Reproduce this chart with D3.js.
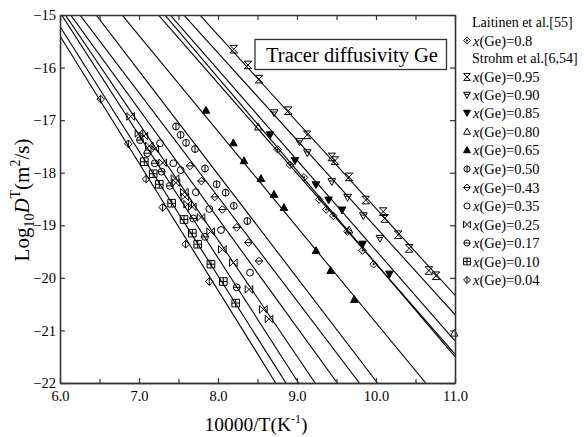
<!DOCTYPE html>
<html><head><meta charset="utf-8">
<script src="https://cdn.jsdelivr.net/npm/d3@7"></script>
<style>
body{margin:0;background:#fff;}
text{font-family:"Liberation Serif","Times New Roman",serif;fill:#000;}
</style></head>
<body><svg id="c" width="584" height="437"></svg>
<script>
// ---------- data ----------
const xTicks = [6.0, 7.0, 8.0, 9.0, 10.0, 11.0];
const xMinorTicks = [6.5, 7.5, 8.5, 9.5, 10.5];
const yTicks = [-15, -16, -17, -18, -19, -20, -21, -22];

const seriesLabels = ["0.8", "0.95", "0.90", "0.85", "0.80", "0.65", "0.50", "0.43", "0.35", "0.25", "0.17", "0.10", "0.04"];
const seriesMarkers = ["diamondDot", "hourglass", "triDownBar", "triDownFill", "triUp", "triUpFill", "circleVLine", "diamondHLine", "circle", "bowtie", "circleHLine", "squarePlus", "diamondVLine"];

// fitted Arrhenius lines: start (x, logD) and end (x, logD)
const lineStartX = [6, 6, 6, 6, 6, 6, 6, 6, 6, 6, 6, 6, 6];
const lineStartY = [-12.65, -12.08, -12.40, -12.60, -12.86, -13.57, -14.10, -14.50, -14.72, -14.85, -14.95, -15.22, -15.40];
const lineEndX   = [11, 11, 11, 11, 11, 10.63, 10.02, 9.79, 9.51, 9.23, 9.02, 8.86, 8.73];
const lineEndY   = [-21.50, -20.33, -20.70, -21.20, -21.45, -22, -22, -22, -22, -22, -22, -22, -22];

const pL08 = [[8.755,-17.555],[8.91,-17.85],[9.09,-18.09],[9.28,-18.51],[9.37,-18.70],[9.46,-18.82],[9.64,-19.12],[9.83,-19.48],[9.97,-19.74]];
const p095 = [[8.20,-15.65],[8.38,-15.95],[8.52,-16.22],[8.89,-16.82],[9.13,-17.28],[9.44,-17.70],[9.48,-17.77],[9.66,-18.08],[9.87,-18.52],[10.09,-18.74],[10.11,-18.87],[10.28,-19.18],[10.42,-19.44],[10.67,-19.86],[10.76,-19.96]];
const p090 = [[8.71,-16.86],[9.03,-17.41],[9.13,-17.62],[9.44,-18.17],[9.64,-18.47],[9.84,-18.82],[10.05,-19.25]];
const p085 = [[8.66,-17.28],[8.975,-17.77],[9.24,-18.23],[9.40,-18.52],[9.57,-18.71],[9.83,-19.36],[10.17,-19.93]];
const p080 = [[8.51,-17.13],[9.66,-19.09],[10.99,-21.05]];
const p065 = [[7.848,-16.81],[8.194,-17.43],[8.329,-17.77],[8.544,-18.11],[8.709,-18.41],[8.835,-18.66],[9.241,-19.48],[9.426,-19.86],[9.725,-20.41]];
const p050 = [[7.468,-17.12],[7.527,-17.28],[7.595,-17.43],[7.709,-17.55],[7.835,-17.92],[7.983,-18.22],[8.097,-18.38],[8.2,-18.63],[8.371,-18.92]];
const p043 = [[7.646,-17.87],[7.79,-18.16],[7.96,-18.46],[8.055,-18.70],[8.237,-19.04],[8.384,-19.33],[8.519,-19.68]];
const p035 = [[7.266,-17.44],[7.434,-17.82],[7.527,-17.95],[7.72,-18.37],[7.89,-18.69],[8.038,-19.09],[8.405,-19.90]];
const p025 = [[6.895,-16.93],[7.0,-17.25],[7.063,-17.30],[7.13,-17.49],[7.2,-17.55],[7.30,-17.81],[7.456,-18.11],[7.468,-18.19],[7.574,-18.37],[7.58,-18.46],[7.616,-18.60],[7.675,-18.65],[7.785,-18.85],[7.907,-19.12],[8.055,-19.46],[8.194,-19.71],[8.392,-20.22],[8.574,-20.60],[8.646,-20.78]];
const p017 = [[7.013,-17.38],[7.105,-17.63],[7.2,-17.82],[7.287,-17.98],[7.39,-18.25],[7.687,-18.87],[7.835,-19.22],[8.237,-20.18]];
const p010 = [[7.067,-17.79],[7.18,-18.02],[7.257,-18.22],[7.413,-18.58],[7.57,-18.89],[7.675,-19.15],[7.743,-19.36],[7.911,-19.74],[8.067,-20.07],[8.224,-20.48]];
const p004 = [[6.515,-16.60],[6.865,-17.45],[7.09,-18.12],[7.30,-18.66],[7.59,-19.36],[7.89,-20.07]];
const seriesPoints = [pL08, p095, p090, p085, p080, p065, p050, p043, p035, p025, p017, p010, p004];

// ---------- layout ----------
const svg = d3.select("#c");
const L = 60, R = 455, T = 15, B = 383;
const x = d3.scaleLinear().domain([6, 11]).range([L, R]);
const y = d3.scaleLinear().domain([-15, -22]).range([T, B]);

svg.append("defs").append("clipPath").attr("id", "clip")
  .append("rect").attr("x", L).attr("y", T).attr("width", R - L).attr("height", B - T);

const lg = svg.append("g").attr("clip-path", "url(#clip)");
seriesLabels.forEach((s, i) => {
  lg.append("line")
    .attr("x1", x(lineStartX[i])).attr("y1", y(lineStartY[i]))
    .attr("x2", x(lineEndX[i])).attr("y2", y(lineEndY[i]))
    .attr("stroke", "#000").attr("stroke-width", 1.1);
});

function marker(g, type, r) {
  const st = {fill: "none", stroke: "#000", "stroke-width": 1};
  const add = (d, fill) => {
    const p = g.append("path").attr("d", d);
    Object.entries(st).forEach(([k, v]) => p.attr(k, v));
    if (fill) p.attr("fill", "#000");
  };
  const circ = () => {
    const c = g.append("circle").attr("r", r * 0.9);
    Object.entries(st).forEach(([k, v]) => c.attr(k, v));
  };
  const dia = `M0,${-r}L${r},0L0,${r}L${-r},0Z`;
  switch (type) {
    case "diamondDot": add(dia); g.append("circle").attr("r", 1.1).attr("fill", "#000"); break;
    case "hourglass": add(`M${-r},${-r}H${r}L${-r},${r}H${r}Z`); break;
    case "triDownBar": add(`M${-r},${-r*0.8}H${r}L0,${r}Z`); add(`M${-r*0.6},${-r*0.2}H${r*0.6}`); break;
    case "triDownFill": add(`M${-r},${-r*0.8}H${r}L0,${r}Z`, true); break;
    case "triUp": add(`M${-r},${r*0.8}H${r}L0,${-r}Z`); break;
    case "triUpFill": add(`M${-r},${r*0.8}H${r}L0,${-r}Z`, true); break;
    case "circleVLine": circ(); add(`M0,${-r}V${r}`); break;
    case "diamondHLine": add(dia); add(`M${-r},0H${r}`); break;
    case "circle": circ(); break;
    case "bowtie": add(`M${-r},${-r}V${r}L${r},${-r}V${r}Z`); break;
    case "circleHLine": circ(); add(`M${-r},0H${r}`); break;
    case "squarePlus": add(`M${-r},${-r}H${r}V${r}H${-r}Z`); add(`M0,${-r}V${r}M${-r},0H${r}`); break;
    case "diamondVLine": add(dia); add(`M0,${-r}V${r}`); break;
  }
}

const mg = svg.append("g");
seriesPoints.forEach((pts, i) => {
  pts.forEach(p => {
    const g = mg.append("g").attr("transform", `translate(${x(p[0])},${y(p[1])})`);
    marker(g, seriesMarkers[i], 3.8);
  });
});

// axes
const frameColor = "#333";
const axB = svg.append("g").attr("transform", `translate(0,${B})`)
  .call(d3.axisBottom(x).tickValues(xTicks).tickFormat(d3.format(".1f")).tickSizeInner(-5).tickSizeOuter(0).tickPadding(8));
const axBm = svg.append("g").attr("transform", `translate(0,${B})`)
  .call(d3.axisBottom(x).tickValues(xMinorTicks).tickFormat("").tickSizeInner(-4).tickSizeOuter(0));
const axT = svg.append("g").attr("transform", `translate(0,${T})`)
  .call(d3.axisTop(x).tickValues(xTicks.concat(xMinorTicks)).tickFormat("").tickSizeInner(-5).tickSizeOuter(0));
const axL = svg.append("g").attr("transform", `translate(${L},0)`)
  .call(d3.axisLeft(y).tickValues(yTicks).tickFormat(d3.format("d")).tickSizeInner(-5).tickSizeOuter(0).tickPadding(4));
const axR = svg.append("g").attr("transform", `translate(${R},0)`)
  .call(d3.axisRight(y).tickValues(yTicks).tickFormat("").tickSizeInner(-5).tickSizeOuter(0));
[axB, axBm, axT, axL, axR].forEach(a => {
  a.select(".domain").attr("stroke", frameColor).attr("stroke-width", 1.6);
  a.selectAll(".tick line").attr("stroke", frameColor).attr("stroke-width", 1.2);
  a.selectAll("text").style("font-family", '"Liberation Serif",serif').style("font-size", "14.5px").attr("fill", "#000");
});

// title box
svg.append("rect").attr("x", 255).attr("y", 39.5).attr("width", 191.5).attr("height", 30)
  .attr("fill", "#fff").attr("stroke", frameColor).attr("stroke-width", 1.3);
svg.append("text").attr("x", 352).attr("y", 62).attr("text-anchor", "middle")
  .style("font-size", "20.5px").text("Tracer diffusivity Ge");

// axis titles
const xt = svg.append("text").attr("x", 256).attr("y", 431).attr("text-anchor", "middle").style("font-size", "19.5px");
xt.append("tspan").text("10000/T(K");
xt.append("tspan").attr("dy", -8).style("font-size", "12px").text("-1");
xt.append("tspan").attr("dy", 8).text(")");

const yt = svg.append("text").attr("transform", "translate(29,200) rotate(-90)").attr("text-anchor", "middle").style("font-size", "21px");
yt.append("tspan").text("Log");
yt.append("tspan").attr("dy", 5).style("font-size", "14px").text("10");
yt.append("tspan").attr("dy", -5).style("font-style", "italic").text("D");
yt.append("tspan").attr("dy", -9).style("font-size", "14px").text("T");
yt.append("tspan").attr("dy", 9).text("(m");
yt.append("tspan").attr("dy", -9).style("font-size", "14px").text("2");
yt.append("tspan").attr("dy", 9).text("/s)");

// legend
const legX = 467, legTextX = 473;
const rowY = [22, 40.5, 58.5, 77, 95, 113, 131.5, 150, 169, 187.5, 206, 224.5, 243, 261.5, 280];
svg.append("text").attr("x", 472).attr("y", rowY[0] + 4.5).style("font-size", "14px").text("Laitinen et al.[55]");
svg.append("text").attr("x", 472).attr("y", rowY[2] + 4.5).style("font-size", "14px").text("Strohm et al.[6,54]");
seriesLabels.forEach((s, i) => {
  const ry = i === 0 ? rowY[1] : rowY[i + 2];
  const g = svg.append("g").attr("transform", `translate(${legX},${ry})`);
  marker(g, seriesMarkers[i], 3.4);
  const t = svg.append("text").attr("x", legTextX).attr("y", ry + 5).style("font-size", "14.5px");
  t.append("tspan").style("font-style", "italic").text("x");
  t.append("tspan").text("(Ge)=" + s);
});
</script></body></html>
